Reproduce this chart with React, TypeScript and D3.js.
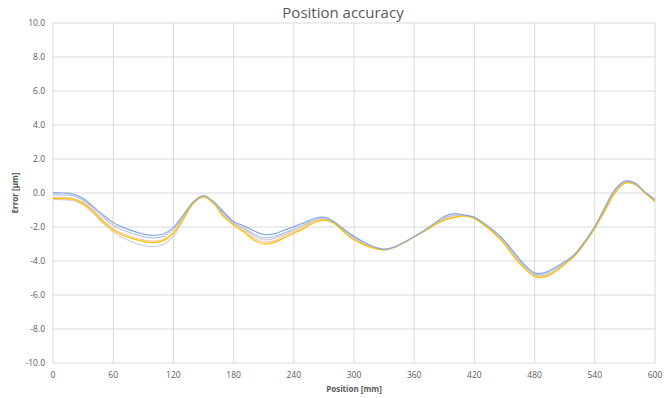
import React from "react";
import * as d3 from "d3";

const positions = [
  0, 10, 20, 30, 40, 50, 60, 70, 80, 90, 100, 110, 120, 130, 140, 150, 160, 170, 180, 190,
  200, 210, 220, 230, 240, 250, 260, 270, 280, 290, 300, 310, 320, 330, 340, 350, 360, 370,
  380, 390, 400, 410, 420, 430, 440, 450, 460, 470, 480, 490, 500, 510, 520, 530, 540, 550,
  560, 570, 580, 590, 600,
];

const run1 = [
  0.02, 0.0, -0.06, -0.31, -0.8, -1.29, -1.75, -2.02, -2.24, -2.42, -2.49, -2.41, -2.02, -1.29,
  -0.51, -0.16, -0.51, -1.1, -1.69, -1.92, -2.22, -2.44, -2.4, -2.2, -1.98, -1.76, -1.5, -1.42,
  -1.69, -2.14, -2.55, -2.9, -3.16, -3.31, -3.18, -2.9, -2.57, -2.2, -1.8, -1.38, -1.22, -1.3,
  -1.43, -1.8, -2.25, -2.8, -3.52, -4.22, -4.7, -4.68, -4.4, -4.05, -3.6, -2.85, -1.98, -0.85,
  0.2, 0.7, 0.58, 0.05, -0.37,
];

const run2 = [
  -0.1, -0.12, -0.17, -0.42, -0.91, -1.43, -1.9, -2.19, -2.4, -2.57, -2.64, -2.55, -2.14, -1.36,
  -0.55, -0.18, -0.55, -1.2, -1.76, -2.05, -2.41, -2.64, -2.58, -2.36, -2.12, -1.87, -1.59, -1.48,
  -1.72, -2.2, -2.62, -2.95, -3.19, -3.32, -3.19, -2.91, -2.57, -2.22, -1.84, -1.46, -1.3, -1.32,
  -1.45, -1.84, -2.3, -2.87, -3.62, -4.3, -4.77, -4.77, -4.49, -4.1, -3.64, -2.89, -2.02, -0.92,
  0.13, 0.66, 0.55, 0.03, -0.42,
];

const run3 = [
  -0.24, -0.26, -0.31, -0.55, -1.04, -1.61, -2.09, -2.4, -2.61, -2.76, -2.83, -2.72, -2.3, -1.45,
  -0.59, -0.21, -0.59, -1.33, -1.84, -2.21, -2.65, -2.89, -2.82, -2.56, -2.29, -2.02, -1.7, -1.56,
  -1.76, -2.27, -2.71, -3.02, -3.23, -3.34, -3.2, -2.92, -2.57, -2.24, -1.88, -1.56, -1.4, -1.34,
  -1.48, -1.88, -2.37, -2.96, -3.74, -4.4, -4.86, -4.89, -4.6, -4.17, -3.68, -2.93, -2.06, -1.01,
  0.04, 0.6, 0.52, 0.01, -0.48,
];

const run4 = [
  -0.31, -0.33, -0.37, -0.61, -1.1, -1.69, -2.18, -2.5, -2.7, -2.85, -2.92, -2.8, -2.37, -1.49,
  -0.61, -0.22, -0.61, -1.39, -1.88, -2.28, -2.76, -3.0, -2.92, -2.65, -2.37, -2.08, -1.75, -1.6,
  -1.78, -2.3, -2.75, -3.05, -3.25, -3.35, -3.2, -2.92, -2.57, -2.25, -1.9, -1.6, -1.45, -1.35,
  -1.49, -1.9, -2.4, -3.0, -3.8, -4.45, -4.9, -4.94, -4.65, -4.2, -3.7, -2.95, -2.08, -1.05,
  0.0, 0.58, 0.5, 0.0, -0.51,
];

const run5 = [
  -0.38, -0.4, -0.45, -0.7, -1.2, -1.8, -2.3, -2.65, -2.9, -3.08, -3.15, -3.02, -2.55, -1.58,
  -0.62, -0.24, -0.58, -1.28, -1.8, -2.12, -2.52, -2.75, -2.68, -2.45, -2.2, -1.94, -1.64, -1.52,
  -1.74, -2.26, -2.72, -3.0, -3.2, -3.32, -3.17, -2.9, -2.57, -2.23, -1.86, -1.5, -1.35, -1.33,
  -1.47, -1.86, -2.34, -2.92, -3.68, -4.36, -4.82, -4.84, -4.55, -4.14, -3.66, -2.91, -2.04, -0.96,
  0.1, 0.68, 0.6, 0.04, -0.45,
];

const xTicks = [0, 60, 120, 180, 240, 300, 360, 420, 480, 540, 600];
const yTicks = [-10, -8, -6, -4, -2, 0, 2, 4, 6, 8, 10];

const seriesList = [
  { name: "run5", values: run5, color: "#d3d3d3" },
  { name: "run3", values: run3, color: "#f8cbad" },
  { name: "run2", values: run2, color: "#b4c7e7" },
  { name: "run4", values: run4, color: "#ffc000" },
  { name: "run1", values: run1, color: "#8eaadb" },
];

const W = 669;
const H = 398;
const M = { left: 53, right: 14, top: 23, bottom: 35 };

export default function App() {
  const x = d3.scaleLinear().domain([0, 600]).range([M.left, W - M.right]);
  const y = d3.scaleLinear().domain([-10, 10]).range([H - M.bottom, M.top]);
  const line = d3
    .line<[number, number]>()
    .x((d) => x(d[0]))
    .y((d) => y(d[1]))
    .curve(d3.curveCatmullRom.alpha(0.5));

  const font = "'Open Sans', 'DejaVu Sans', sans-serif";
  const textColor = "#595959";
  const grid = "#d9d9d9";

  return (
    <svg
      width={W}
      height={H}
      style={{ position: "absolute", left: 0, top: 0, display: "block", background: "#fff" }}
      fontFamily={font}
    >
      <rect x={0} y={0} width={W} height={H} fill="#fff" />
      <text x={343} y={18} textAnchor="middle" fontSize={15} fill={textColor}>
        Position accuracy
      </text>
      {yTicks.map((t) => (
        <g key={"y" + t}>
          <line x1={x(0)} x2={x(600)} y1={y(t)} y2={y(t)} stroke={grid} strokeWidth={1} />
          <text x={45} y={y(t) + 3} textAnchor="end" fontSize={8.5} fill={textColor}>
            {t.toFixed(1)}
          </text>
        </g>
      ))}
      {xTicks.map((t) => (
        <g key={"x" + t}>
          <line x1={x(t)} x2={x(t)} y1={y(10)} y2={y(-10)} stroke={grid} strokeWidth={1} />
          <text x={x(t)} y={378} textAnchor="middle" fontSize={8.5} fill={textColor}>
            {t}
          </text>
        </g>
      ))}
      {seriesList.map((s) => (
        <path
          key={s.name}
          d={line(positions.map((p, i) => [p, s.values[i]] as [number, number])) || ""}
          fill="none"
          stroke={s.color}
          strokeWidth={1.25}
        />
      ))}
      <text
        x={(x(0) + x(600)) / 2}
        y={392}
        textAnchor="middle"
        fontSize={8}
        fontWeight="bold"
        fill={textColor}
      >
        Position [mm]
      </text>
      <text
        transform={`translate(18, ${y(0)}) rotate(-90)`}
        textAnchor="middle"
        fontSize={8}
        fontWeight="bold"
        fill={textColor}
      >
        Error [µm]
      </text>
    </svg>
  );
}
